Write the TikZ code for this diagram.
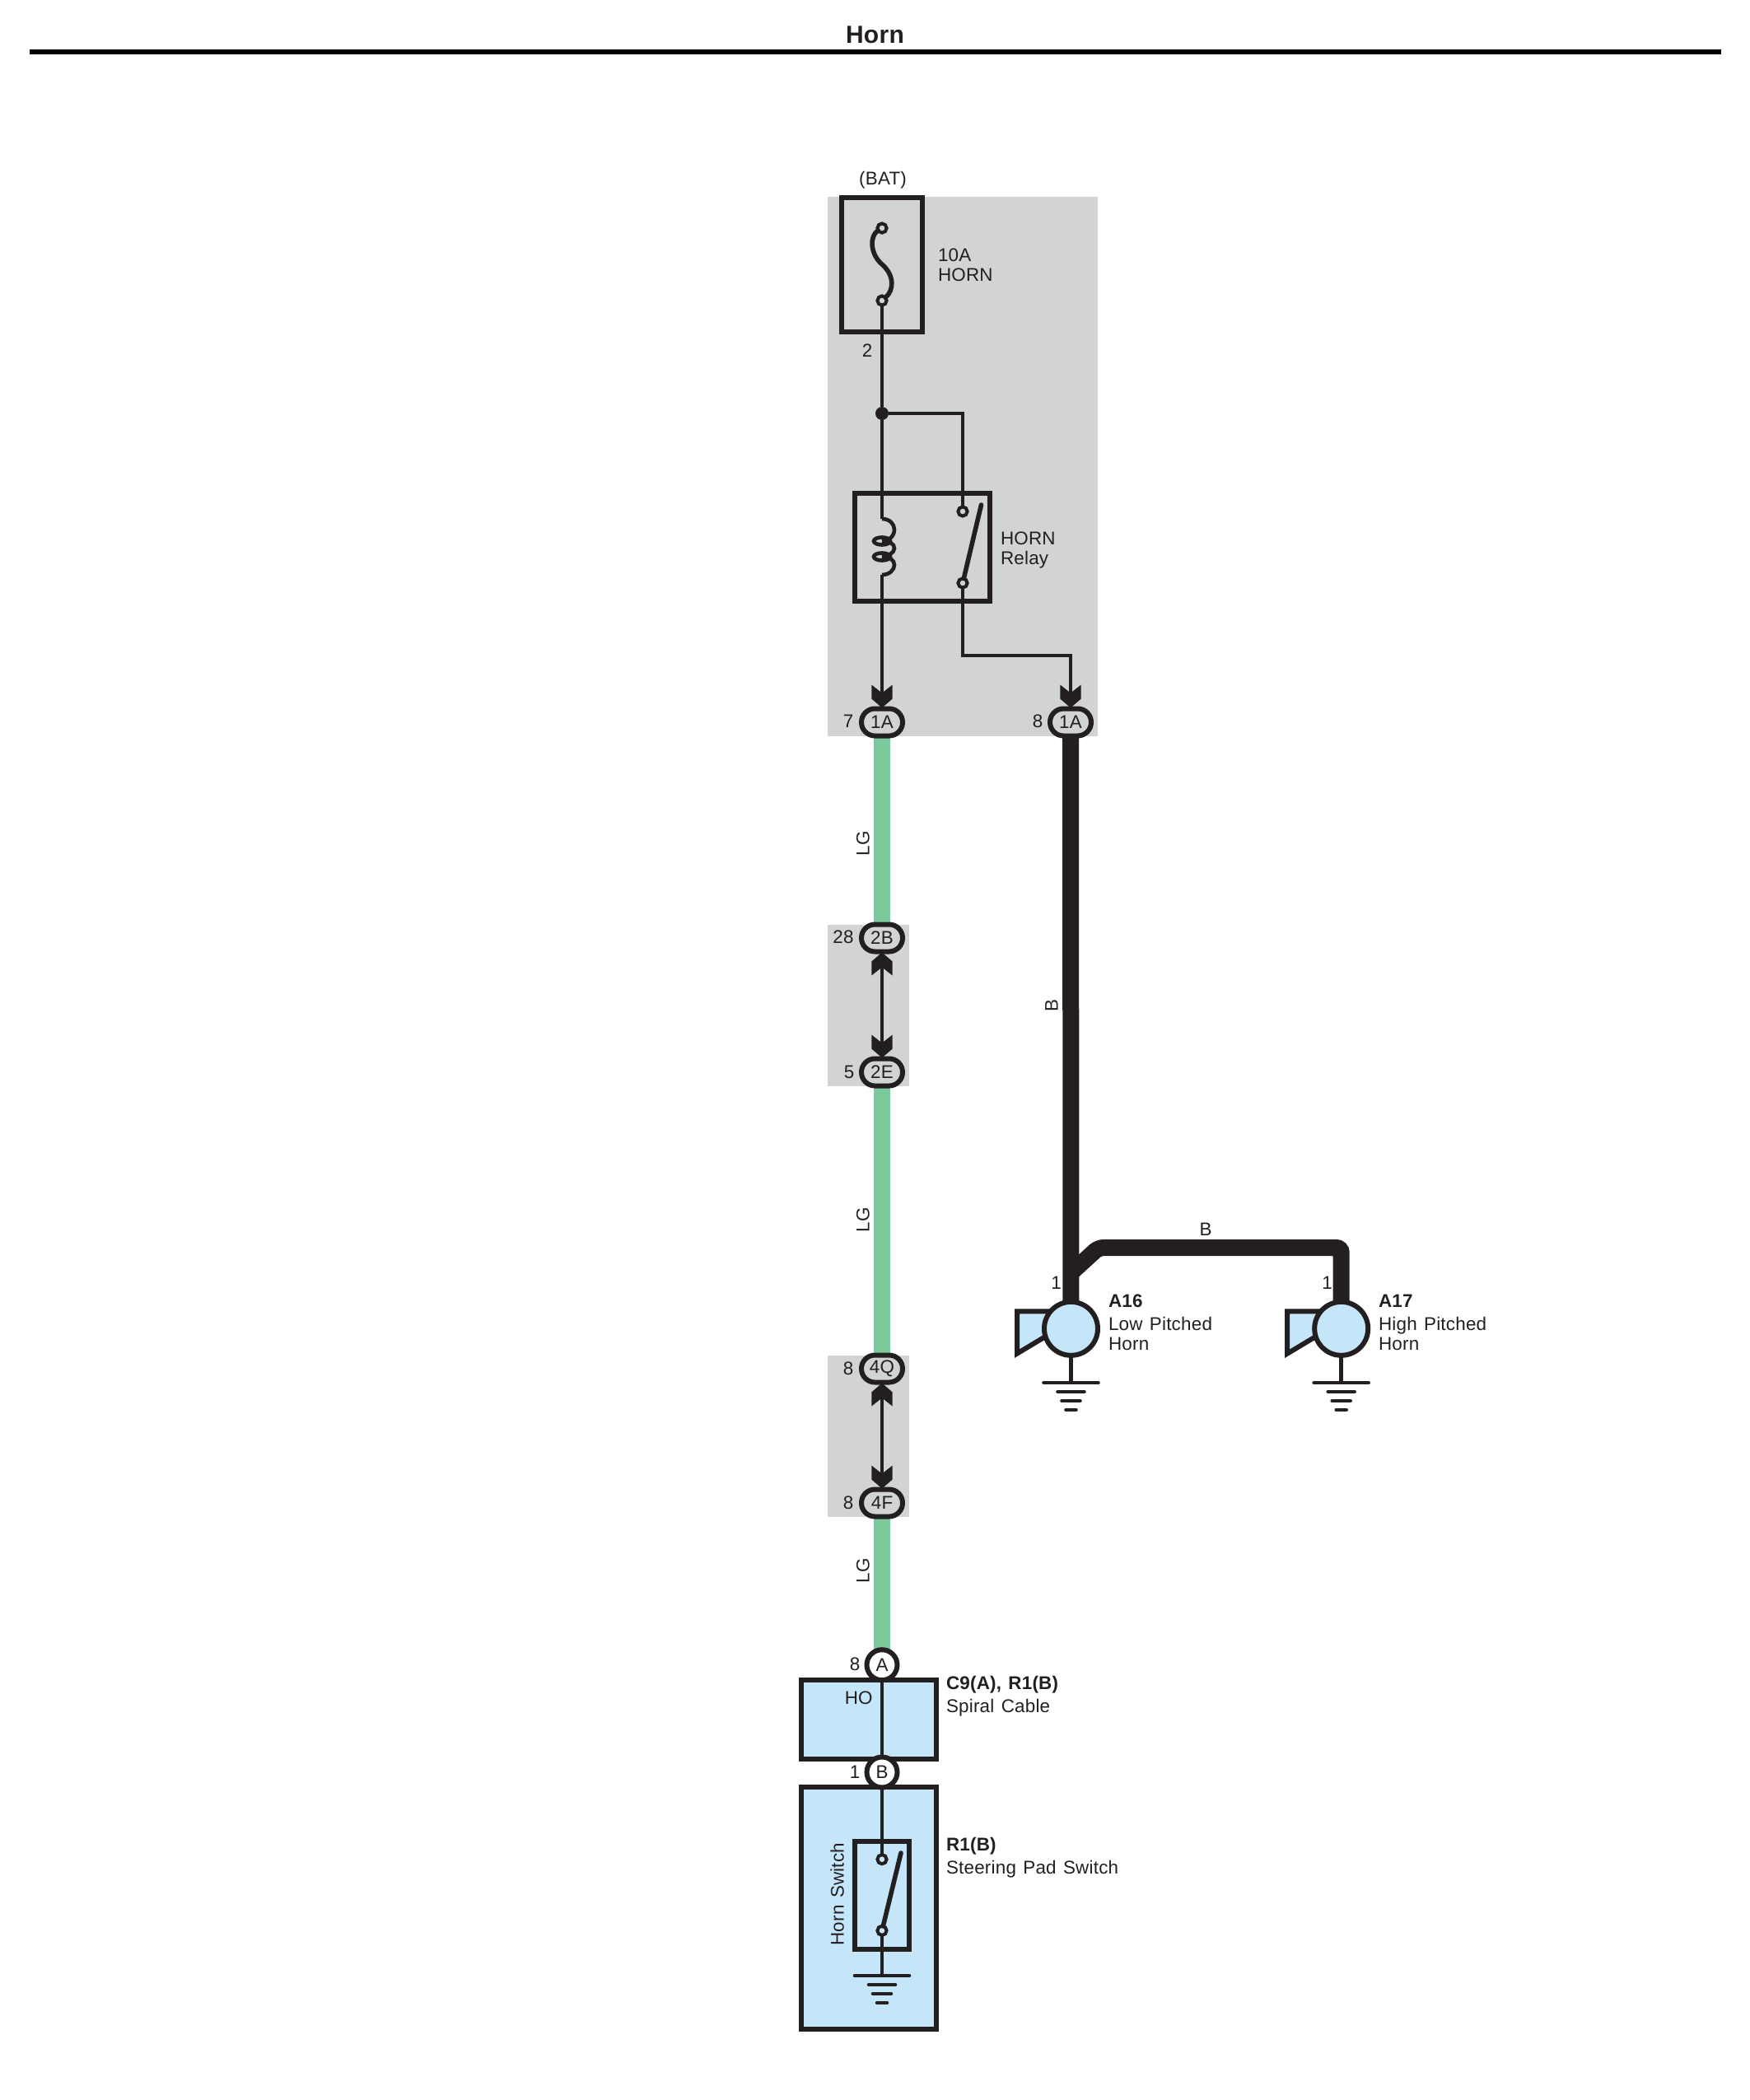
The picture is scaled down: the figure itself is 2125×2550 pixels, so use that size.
\documentclass[tikz,border=0pt]{standalone}
\usepackage{fontspec}
\setmainfont[WordSpace=1.3,LetterSpace=1]{Liberation Sans}
\usetikzlibrary{calc}
\definecolor{inkBlack}{HTML}{231F20}
\definecolor{boxGray}{HTML}{D1D3D4}
\definecolor{partBlue}{HTML}{C4E6F8}
\definecolor{wireGreen}{HTML}{7CC99E}

\begin{document}
\begin{tikzpicture}[
  x=0.5pt,y=-0.5pt,
  font=\fontsize{11.2}{12}\selectfont,
  every node/.style={align=left,text=inkBlack,inner sep=0pt,outer sep=0pt},
  grayArea/.style={rectangle,fill=boxGray},
  partBox/.style={draw=inkBlack,line width=3pt,rectangle,fill=partBlue},
  symBox/.style={draw=inkBlack,line width=3pt,rectangle},
  contactPt/.style={draw=inkBlack,line width=2pt,circle,minimum size=5.6pt},
  joinPt/.style={fill=inkBlack,circle,minimum size=8pt},
  connPill/.style={draw=inkBlack,line width=3pt,fill=boxGray,rectangle,rounded corners=8.2pt,minimum width=25pt,minimum height=16.5pt},
  connRound/.style={draw=inkBlack,line width=3pt,fill=white,circle,minimum size=18.5pt},
  hornDisc/.style={draw=inkBlack,line width=3pt,fill=partBlue,circle,minimum size=32.5pt},
  thinWire/.style={draw=inkBlack,line width=2.3pt},
  armWire/.style={draw=inkBlack,line width=2.8pt,line cap=round},
  greenWire/.style={draw=wireGreen,line width=10pt},
  blackWire/.style={draw=inkBlack,line width=10pt},
  barbHead/.pic={\fill[inkBlack] (-12.7,-28) -- (0,-18) -- (12.7,-28) -- (12.7,-11) -- (0,0) -- (-12.7,-11) -- cycle;},
  groundSym/.pic={
    \draw[inkBlack,line width=2.3pt,line cap=round] (-33,0) -- (33,0);
    \draw[inkBlack,line width=2.3pt,line cap=round] (-16,11) -- (16,11);
    \draw[inkBlack,line width=2.3pt,line cap=round] (-11,22) -- (11,22);
    \draw[inkBlack,line width=2.3pt,line cap=round] (-6,33) -- (6,33);},
  hornSym/.pic={
    \draw[inkBlack,line width=3pt,fill=partBlue] (-65.5,-21) -- (-10,-21) -- (-10,-3) -- (-65.5,30.3) -- cycle;
    \node[hornDisc] (-disc) at (0,0) {};}
  ]

  % title and rule
  \node[font=\bfseries\fontsize{15}{16}\selectfont,anchor=base] (tTitle) at (1062.5,52) {Horn};
  \coordinate (kRuleL) at (36,63);
  \coordinate (kRuleR) at (2090,63);
  \draw [line width=3pt,draw=black] (kRuleL) -- (kRuleR);

  % gray areas
  \node[grayArea,minimum width=164pt,minimum height=327.5pt] (aRelay) at (1169,566.5) {};
  \node[grayArea,minimum width=49.5pt,minimum height=98pt] (aTopSplice) at (1054.5,1221) {};
  \node[grayArea,minimum width=49.5pt,minimum height=98pt] (aLowSplice) at (1054.5,1744) {};

  % green and black harness wires
  \coordinate (kGreenA) at (1071,890);
  \coordinate (kGreenB) at (1071,1130);
  \coordinate (kGreenC) at (1071,1310);
  \coordinate (kGreenD) at (1071,1670);
  \coordinate (kGreenE) at (1071,1815);
  \coordinate (kGreenF) at (1071,2015);
  \draw [greenWire] (kGreenA) -- (kGreenB);
  \draw [greenWire] (kGreenC) -- (kGreenD);
  \draw [greenWire] (kGreenE) -- (kGreenF);

  % fuse
  \node[symBox,minimum width=49pt,minimum height=81.5pt] (bFuse) at (1071,321.5) {};
  \node[contactPt] (cFuseTop) at (1071,277) {};
  \node[contactPt] (cFuseBot) at (1071,365) {};
  \draw [armWire] (cFuseTop) .. controls (1056,286) and (1056,308) .. (1071,321) .. controls (1086,334) and (1086,352) .. (cFuseBot);
  \node[joinPt] (jBat) at (1071,502) {};
  \draw [thinWire] (cFuseBot) -- (jBat);

  % relay
  \node[symBox,minimum width=81.8pt,minimum height=65.5pt] (bRelay) at (1119.8,664.2) {};
  \coordinate (kCoilTop) at (1071,630);
  \coordinate (kCoilBot) at (1071,698);
  \node[contactPt] (cRelayTop) at (1169,621) {};
  \node[contactPt] (cRelayBot) at (1169,708) {};
  \coordinate (kArmTip) at (1191.5,613);
  \draw [armWire] (cRelayBot) -- (kArmTip);
  \draw [thinWire] (jBat) -- (kCoilTop);
  \draw [thinWire] (kCoilTop) .. controls (1080,630) and (1086,636) .. (1086,643) .. controls (1086,652) and (1078,657) .. (1071,657) ellipse (10 and 4.5)
    (1071,657) .. controls (1080,657) and (1086,660) .. (1086,666) .. controls (1086,671) and (1078,676) .. (1071,676) ellipse (10 and 4.5)
    (1071,676) .. controls (1080,676) and (1086,680) .. (1086,686) .. controls (1086,692) and (1080,698) .. (kCoilBot);
  \coordinate (kRelayIn) at (1169,502);
  \draw [thinWire] (jBat) -- (kRelayIn) -- (cRelayTop);

  % relay outputs
  \node[connPill] (pLg) at (1071,877) {1A};
  \node[connPill] (pBk) at (1300,877) {1A};
  \coordinate (kOutA) at (1169,796);
  \coordinate (kOutB) at (1300,796);
  \draw [thinWire] (kCoilBot) -- (pLg);
  \draw [thinWire] (cRelayBot) -- (kOutA) -- (kOutB) -- (pBk);
  \pic at ($(pLg.north)+(0,-1)$) {barbHead};
  \pic at ($(pBk.north)+(0,-1)$) {barbHead};

  % splices
  \node[connPill] (p2B) at (1071,1139) {2B};
  \node[connPill] (p2E) at (1071,1302) {2E};
  \node[connPill] (p4Q) at (1071,1662) {4Q};
  \node[connPill] (p4F) at (1071,1825) {4F};
  \draw [thinWire] (p2B) -- (p2E);
  \draw [thinWire] (p4Q) -- (p4F);
  \pic[rotate=180] at ($(p2B.south)+(0,1)$) {barbHead};
  \pic at ($(p2E.north)+(0,-1)$) {barbHead};
  \pic[rotate=180] at ($(p4Q.south)+(0,1)$) {barbHead};
  \pic at ($(p4F.north)+(0,-1)$) {barbHead};

  % horns
  \pic (hLow) at (1300.5,1613.3) {hornSym};
  \pic (hHigh) at (1628.7,1613.3) {hornSym};
  \coordinate (kBranchA) at (1300,1546);
  \coordinate (kBranchB) at (1334,1515);
  \coordinate (kBranchC) at (1628.7,1515);
  \draw [blackWire] (pBk) -- (hLow-disc);
  \draw [blackWire,rounded corners=3pt] (kBranchA) -- (kBranchB) -- (kBranchC) -- (hHigh-disc);
  \coordinate (gLow) at (1300.5,1679);
  \coordinate (gHigh) at (1628.7,1679);
  \draw [thinWire] (hLow-disc) -- (gLow);
  \draw [thinWire] (hHigh-disc) -- (gHigh);
  \pic at (gLow) {groundSym};
  \pic at (gHigh) {groundSym};

  % spiral cable and steering pad
  \node[partBox,minimum width=81.8pt,minimum height=48pt] (bSpiral) at (1055.2,2087.5) {};
  \node[partBox,minimum width=81.8pt,minimum height=147.4pt] (bSteer) at (1055.2,2317) {};
  \node[connRound] (cA) at (1071,2021.7) {A};
  \node[connRound] (cB) at (1071,2152) {B};
  \draw [thinWire] (cA) -- (cB);
  \node[symBox,minimum width=32.8pt,minimum height=65.5pt] (bSwitch) at (1071.2,2301) {};
  \node[contactPt] (cSwitchTop) at (1071,2257.7) {};
  \node[contactPt] (cSwitchBot) at (1071,2344.3) {};
  \coordinate (kSwitchTip) at (1094,2250);
  \coordinate (gSwitch) at (1071,2399);
  \draw [armWire] (cSwitchBot) -- (kSwitchTip);
  \draw [thinWire] (cB) -- (cSwitchTop);
  \draw [thinWire] (cSwitchBot) -- (gSwitch);
  \pic at (gSwitch) {groundSym};

  % labels
  \node (tBat) at (1072,218.5) {(BAT)};
  \node[anchor=base west] (tFuse) at (1139,341.7) {10A\\HORN};
  \node (tPinFuse) at (1053,426) {2};
  \node[anchor=base west] (tRelay) at (1215,685) {HORN\\Relay};
  \node (tPin7) at (1030,876) {7};
  \node (tPin8) at (1260,876) {8};
  \node (tPin28) at (1024,1138) {28};
  \node (tPin5) at (1031,1302) {5};
  \node (tPin8b) at (1030,1662) {8};
  \node (tPin8c) at (1030,1825) {8};
  \node[rotate=90] (tLgA) at (1048,1024.5) {LG};
  \node[rotate=90] (tLgB) at (1048,1481) {LG};
  \node[rotate=90] (tLgC) at (1048,1907) {LG};
  \node[rotate=90] (tBkA) at (1277,1221) {B};
  \node (tBkB) at (1464,1493) {B};
  \node (tPin1a) at (1282.5,1558) {1};
  \node (tPin1b) at (1611.5,1558) {1};
  \node[anchor=base west] (tLow) at (1346,1639) {\textbf{A16}\\[2pt]Low Pitched\\Horn};
  \node[anchor=base west] (tHigh) at (1674,1639) {\textbf{A17}\\[2pt]High Pitched\\Horn};
  \node (tPinA) at (1038,2020.7) {8};
  \node (tPinB) at (1038,2151.7) {1};
  \node (tHo) at (1042.7,2061.7) {HO};
  \node[anchor=base west] (tSpiral) at (1149,2079) {\textbf{C9(A), R1(B)}\\[2pt]Spiral Cable};
  \node[anchor=base west] (tSteer) at (1149,2275) {\textbf{R1(B)}\\[2pt]Steering Pad Switch};
  \node[rotate=90] (tHornSw) at (1016.7,2300) {Horn Switch};

  \useasboundingbox (0,0) rectangle (2125,2550);
\end{tikzpicture}
\end{document}
